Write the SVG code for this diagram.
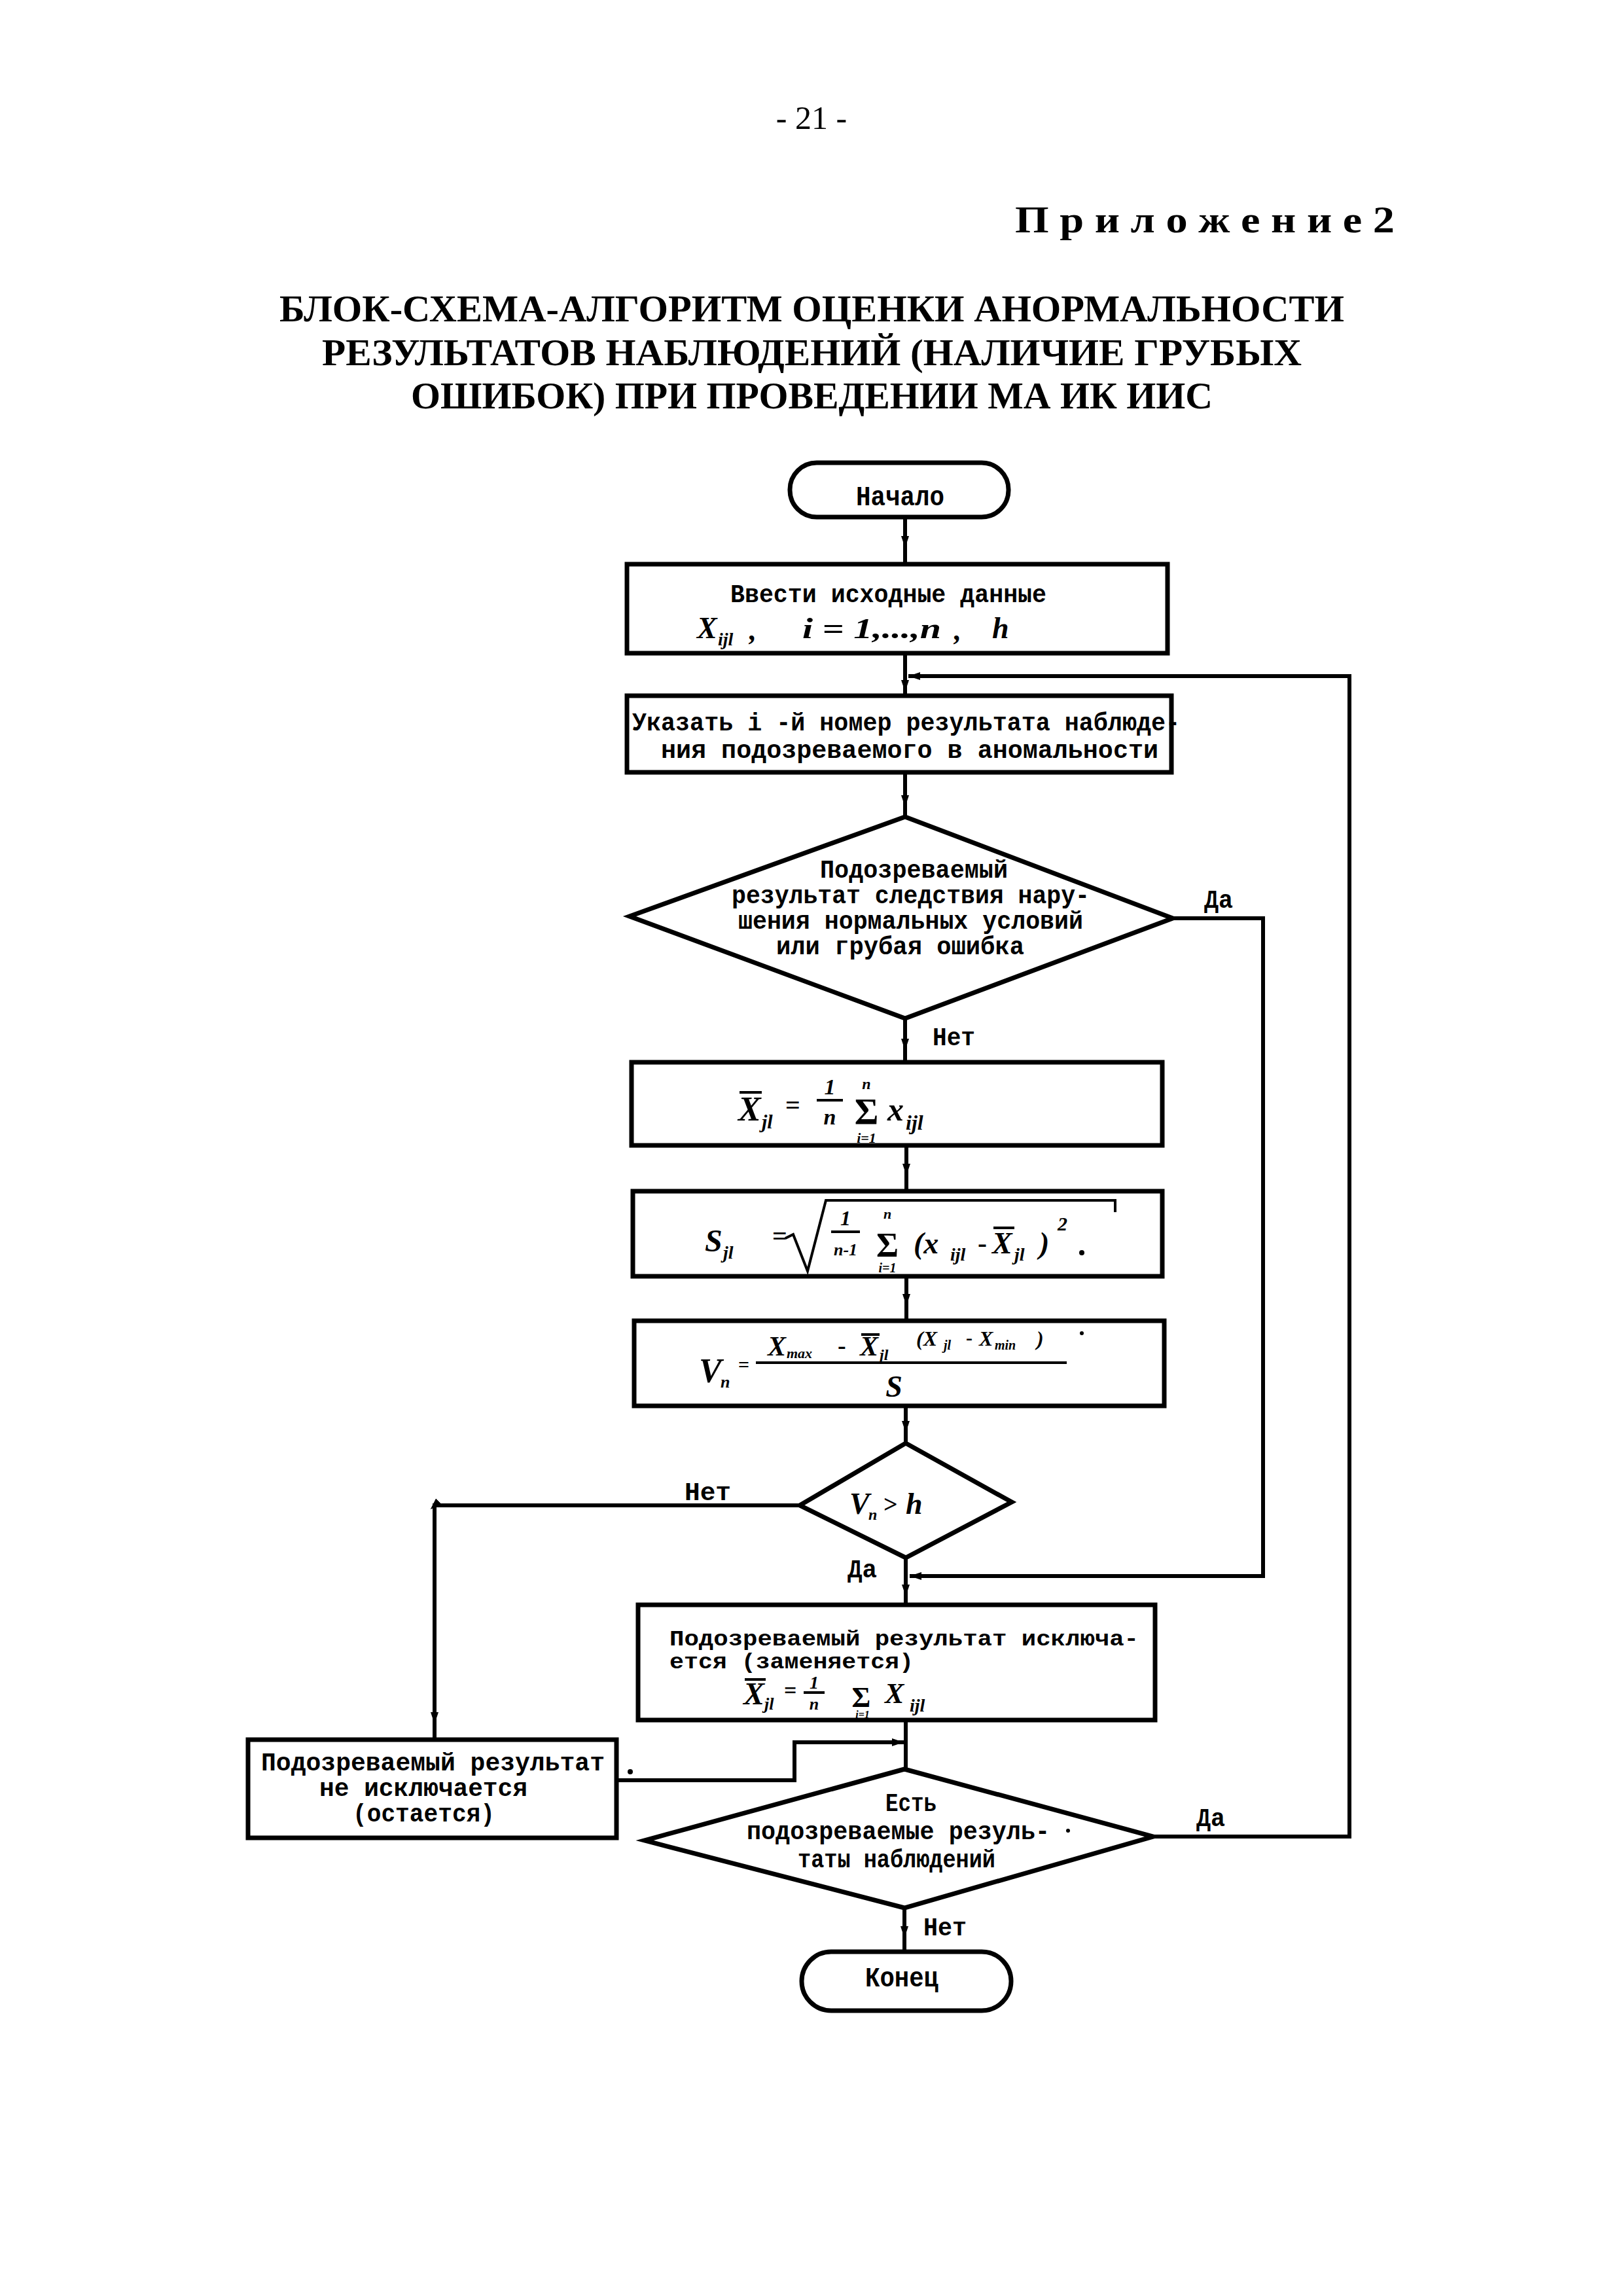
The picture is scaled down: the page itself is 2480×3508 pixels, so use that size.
<svg xmlns="http://www.w3.org/2000/svg" width="2480" height="3508" viewBox="0 0 2480 3508">
<style>
.hd{font-family:"Liberation Serif","Times New Roman",serif;fill:#000}
.t{font-family:"Liberation Mono","DejaVu Sans Mono",monospace;font-weight:700;font-size:38px;fill:#000}
.tl{font-family:"Liberation Mono","DejaVu Sans Mono",monospace;font-weight:700;font-size:42px;fill:#000}
.ts{font-family:"Liberation Mono","DejaVu Sans Mono",monospace;font-weight:700;font-size:33px;fill:#000}
.m{font-family:"Liberation Serif","Times New Roman",serif;font-style:italic;font-weight:700;fill:#000}
.mu{font-family:"Liberation Serif","Times New Roman",serif;font-weight:700;fill:#000}
.sh{fill:#fff;stroke:#000;stroke-width:7}
.ln{fill:none;stroke:#000;stroke-width:6}
.thin{fill:none;stroke:#000;stroke-width:4}
</style>
<defs>
<marker id="am" markerUnits="userSpaceOnUse" viewBox="0 0 18 12" markerWidth="18" markerHeight="12" refX="9" refY="6" orient="auto"><path d="M0,0 L18,6 L0,12 z" fill="#000"/></marker>
<marker id="ae" markerUnits="userSpaceOnUse" viewBox="0 0 18 12" markerWidth="18" markerHeight="12" refX="18" refY="6" orient="auto"><path d="M0,0 L18,6 L0,12 z" fill="#000"/></marker>
</defs>
<rect width="2480" height="3508" fill="#fff"/>

<g id="header">
<text class="hd" x="1240" y="197" font-size="50" text-anchor="middle">- 21 -</text>
<text class="hd" x="1551" y="355" font-size="58" font-weight="bold" textLength="580" lengthAdjust="spacingAndGlyphs">П р и л о ж е н и е 2</text>
<text class="hd" x="427" y="491" font-size="58" font-weight="bold" textLength="1627" lengthAdjust="spacingAndGlyphs">БЛОК-СХЕМА-АЛГОРИТМ ОЦЕНКИ АНОРМАЛЬНОСТИ</text>
<text class="hd" x="492" y="558" font-size="58" font-weight="bold" textLength="1497" lengthAdjust="spacingAndGlyphs">РЕЗУЛЬТАТОВ НАБЛЮДЕНИЙ (НАЛИЧИЕ ГРУБЫХ</text>
<text class="hd" x="628" y="624" font-size="58" font-weight="bold" textLength="1225" lengthAdjust="spacingAndGlyphs">ОШИБОК) ПРИ ПРОВЕДЕНИИ МА ИК ИИС</text>
</g>

<g id="connectors">
<path class="ln" d="M1383,790 L1383,828 L1383,862" marker-mid="url(#am)"/>
<path class="ln" d="M1383,998 L1383,1048 L1383,1063" marker-mid="url(#am)"/>
<path class="ln" d="M1383,1180 L1383,1224 L1383,1248" marker-mid="url(#am)"/>
<path class="ln" d="M1383,1556 L1383,1596 L1383,1623" marker-mid="url(#am)"/>
<path class="ln" d="M1385,1750 L1385,1787 L1385,1820" marker-mid="url(#am)"/>
<path class="ln" d="M1385,1950 L1385,1986 L1385,2018" marker-mid="url(#am)"/>
<path class="ln" d="M1384,2148 L1384,2180 L1384,2205" marker-mid="url(#am)"/>
<path class="ln" d="M1384,2380 L1384,2430 L1384,2452" marker-mid="url(#am)"/>
<path class="ln" d="M1792,1403 L1930,1403 L1930,2408 L1390,2408" marker-end="url(#ae)"/>
<path class="ln" d="M1222,2300 L664,2300 L664,2625 L664,2658" marker-mid="url(#am)"/>
<path class="ln" d="M1384,2628 L1384,2703"/>
<path class="ln" d="M942,2720 L1214,2720 L1214,2662 L1381,2662" marker-end="url(#ae)"/>
<path class="ln" d="M1762,2806 L2062,2806 L2062,1033 L1388,1033" marker-end="url(#ae)"/>
<path class="ln" d="M1382,2915 L1382,2952 L1382,2982" marker-mid="url(#am)"/>
</g>

<g id="start">
<rect class="sh" x="1207" y="707" width="334" height="83" rx="41"/>
<text class="tl" x="1308" y="772" textLength="135" lengthAdjust="spacingAndGlyphs">Начало</text>
</g>

<g id="input">
<rect class="sh" x="958" y="862" width="826" height="136"/>
<text class="t" x="1116" y="920" textLength="483" lengthAdjust="spacingAndGlyphs">Ввести исходные данные</text>
<text class="m" x="1065" y="975" font-size="46">X</text>
<text class="m" x="1097" y="986" font-size="28">ijl</text>
<text class="m" x="1145" y="978" font-size="44">,</text>
<text class="m" x="1226" y="975" font-size="44" textLength="212" lengthAdjust="spacingAndGlyphs">i = 1,...,n</text>
<text class="m" x="1458" y="978" font-size="44">,</text>
<text class="m" x="1516" y="975" font-size="46">h</text>
</g>

<g id="select">
<rect class="sh" x="958" y="1063" width="832" height="117"/>
<text class="t" x="966" y="1116" textLength="837" lengthAdjust="spacingAndGlyphs">Указать i -й номер результата наблюде-</text>
<text class="t" x="1010" y="1158" textLength="760" lengthAdjust="spacingAndGlyphs">ния подозреваемого в аномальности</text>
</g>

<g id="decision1">
<polygon class="sh" points="1383,1248 1792,1403 1383,1556 962,1400"/>
<text class="t" x="1253" y="1341" textLength="287" lengthAdjust="spacingAndGlyphs">Подозреваемый</text>
<text class="t" x="1118" y="1380" textLength="547" lengthAdjust="spacingAndGlyphs">результат следствия нару-</text>
<text class="t" x="1128" y="1419" textLength="527" lengthAdjust="spacingAndGlyphs">шения нормальных условий</text>
<text class="t" x="1186" y="1458" textLength="379" lengthAdjust="spacingAndGlyphs">или грубая ошибка</text>
<text class="t" x="1840" y="1387" textLength="44" lengthAdjust="spacingAndGlyphs">Да</text>
<text class="t" x="1425" y="1597" textLength="65" lengthAdjust="spacingAndGlyphs">Нет</text>
</g>

<g id="mean">
<rect class="sh" x="965" y="1623" width="811" height="127"/>
<text class="m" x="1128" y="1712" font-size="52">X</text>
<line class="thin" x1="1130" y1="1669" x2="1164" y2="1669"/>
<text class="m" x="1164" y="1724" font-size="30">jl</text>
<text class="mu" x="1200" y="1702" font-size="40">=</text>
<text class="m" x="1268" y="1672" font-size="34" text-anchor="middle">1</text>
<line class="thin" x1="1248" y1="1681" x2="1288" y2="1681"/>
<text class="m" x="1268" y="1718" font-size="34" text-anchor="middle">n</text>
<text class="mu" x="1324" y="1718" font-size="56" text-anchor="middle">Σ</text>
<text class="m" x="1324" y="1664" font-size="24" text-anchor="middle">n</text>
<text class="m" x="1324" y="1746" font-size="22" text-anchor="middle">i=1</text>
<text class="m" x="1356" y="1712" font-size="50">x</text>
<text class="m" x="1384" y="1726" font-size="32">ijl</text>
</g>

<g id="stdev">
<rect class="sh" x="967" y="1820" width="809" height="130"/>
<text class="m" x="1077" y="1912" font-size="48">S</text>
<text class="m" x="1105" y="1923" font-size="28">jl</text>
<text class="mu" x="1180" y="1902" font-size="40">=</text>
<path class="thin" d="M1200,1892 L1212,1886 L1234,1942 L1262,1834 L1704,1834 L1704,1852"/>
<text class="m" x="1292" y="1872" font-size="32" text-anchor="middle">1</text>
<line class="thin" x1="1270" y1="1882" x2="1314" y2="1882"/>
<text class="m" x="1292" y="1918" font-size="26" text-anchor="middle">n-1</text>
<text class="mu" x="1356" y="1920" font-size="52" text-anchor="middle">Σ</text>
<text class="m" x="1356" y="1862" font-size="22" text-anchor="middle">n</text>
<text class="m" x="1356" y="1944" font-size="20" text-anchor="middle">i=1</text>
<text class="m" x="1396" y="1915" font-size="46">(x</text>
<text class="m" x="1452" y="1926" font-size="28">ijl</text>
<text class="mu" x="1494" y="1913" font-size="42">-</text>
<text class="m" x="1516" y="1915" font-size="46">X</text>
<line class="thin" x1="1518" y1="1876" x2="1550" y2="1876"/>
<text class="m" x="1550" y="1926" font-size="28">jl</text>
<text class="m" x="1588" y="1915" font-size="46">)</text>
<text class="m" x="1616" y="1880" font-size="30">2</text>
<circle cx="1653" cy="1914" r="4" fill="#000"/>
</g>

<g id="criterion">
<rect class="sh" x="969" y="2018" width="810" height="130"/>
<text class="m" x="1068" y="2112" font-size="52">V</text>
<text class="m" x="1101" y="2120" font-size="26">n</text>
<text class="mu" x="1128" y="2095" font-size="30">=</text>
<line class="thin" x1="1155" y1="2082" x2="1630" y2="2082"/>
<text class="m" x="1173" y="2071" font-size="42">X</text>
<text class="m" x="1202" y="2075" font-size="22">max</text>
<text class="mu" x="1280" y="2068" font-size="38">-</text>
<text class="m" x="1314" y="2071" font-size="42">X</text>
<line class="thin" x1="1316" y1="2039" x2="1344" y2="2039"/>
<text class="m" x="1344" y="2078" font-size="24">jl</text>
<text class="m" x="1400" y="2056" font-size="32">(X</text>
<text class="m" x="1442" y="2062" font-size="20">jl</text>
<text class="mu" x="1476" y="2054" font-size="30">-</text>
<text class="m" x="1496" y="2056" font-size="32">X</text>
<text class="m" x="1520" y="2062" font-size="20">min</text>
<text class="m" x="1584" y="2056" font-size="32">)</text>
<circle cx="1653" cy="2037" r="3" fill="#000"/>
<text class="m" x="1366" y="2134" font-size="46" text-anchor="middle">S</text>
</g>

<g id="decision2">
<polygon class="sh" points="1384,2205 1546,2295 1384,2380 1222,2300"/>
<text class="m" x="1298" y="2313" font-size="46">V</text>
<text class="m" x="1327" y="2322" font-size="24">n</text>
<text class="mu" x="1350" y="2311" font-size="38">&gt;</text>
<text class="m" x="1384" y="2313" font-size="46">h</text>
<text class="t" x="1046" y="2292" textLength="71" lengthAdjust="spacingAndGlyphs">Нет</text>
<text class="t" x="1295" y="2410" textLength="45" lengthAdjust="spacingAndGlyphs">Да</text>
</g>

<g id="exclude">
<rect class="sh" x="975" y="2452" width="790" height="176"/>
<text class="ts" x="1023" y="2514" textLength="717" lengthAdjust="spacingAndGlyphs">Подозреваемый результат исключа-</text>
<text class="ts" x="1023" y="2549" textLength="373" lengthAdjust="spacingAndGlyphs">ется (заменяется)</text>
<text class="m" x="1136" y="2604" font-size="48">X</text>
<line class="thin" x1="1138" y1="2566" x2="1170" y2="2566"/>
<text class="m" x="1168" y="2612" font-size="26">jl</text>
<text class="mu" x="1198" y="2594" font-size="34">=</text>
<text class="m" x="1244" y="2580" font-size="28" text-anchor="middle">1</text>
<line class="thin" x1="1228" y1="2586" x2="1260" y2="2586"/>
<text class="m" x="1244" y="2612" font-size="26" text-anchor="middle">n</text>
<text class="mu" x="1316" y="2608" font-size="44" text-anchor="middle">Σ</text>
<text class="m" x="1318" y="2625" font-size="16" text-anchor="middle">i=1</text>
<text class="m" x="1352" y="2602" font-size="44">X</text>
<text class="m" x="1390" y="2615" font-size="28">ijl</text>
</g>

<g id="keep">
<rect class="sh" x="379" y="2658" width="563" height="150"/>
<text class="t" x="399" y="2705" textLength="525" lengthAdjust="spacingAndGlyphs">Подозреваемый результат</text>
<text class="t" x="488" y="2744" textLength="318" lengthAdjust="spacingAndGlyphs">не исключается</text>
<text class="t" x="539" y="2783" textLength="217" lengthAdjust="spacingAndGlyphs">(остается)</text>
<circle cx="963" cy="2707" r="4" fill="#000"/>
</g>

<g id="decision3">
<polygon class="sh" points="1382,2703 1762,2806 1382,2915 985,2812"/>
<text class="t" x="1353" y="2767" textLength="78" lengthAdjust="spacingAndGlyphs">Есть</text>
<text class="t" x="1141" y="2810" textLength="463" lengthAdjust="spacingAndGlyphs">подозреваемые резуль-</text>
<text class="t" x="1219" y="2853" textLength="302" lengthAdjust="spacingAndGlyphs">таты наблюдений</text>
<circle cx="1632" cy="2797" r="3" fill="#000"/>
<text class="t" x="1828" y="2790" textLength="44" lengthAdjust="spacingAndGlyphs">Да</text>
<text class="t" x="1411" y="2957" textLength="66" lengthAdjust="spacingAndGlyphs">Нет</text>
</g>

<g id="end">
<rect class="sh" x="1225" y="2982" width="320" height="90" rx="45"/>
<text class="tl" x="1322" y="3035" textLength="112" lengthAdjust="spacingAndGlyphs">Конец</text>
</g>
</svg>
